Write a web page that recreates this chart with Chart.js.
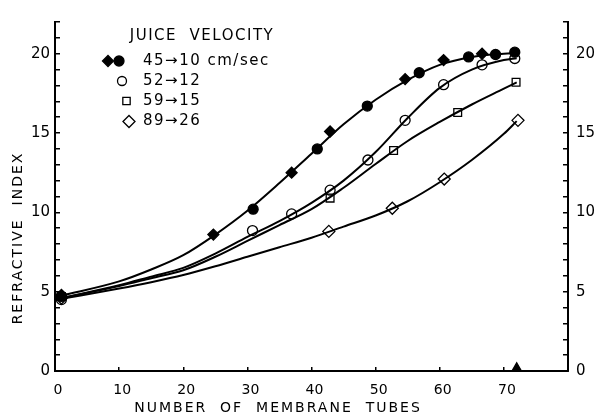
<!DOCTYPE html>
<html>
<head>
<meta charset="utf-8">
<script src="https://cdn.jsdelivr.net/npm/chart.js@4.4.1/dist/chart.umd.min.js"></script>
<style>
  html, body { margin: 0; padding: 0; background: #fff; }
  canvas { display: block; }
</style>
</head>
<body>
<canvas id="chart" width="598" height="418"></canvas>
<script>
// Axis ticks
const xTickLabels = [0, 10, 20, 30, 40, 50, 60, 70];
const yTickLabels = [0, 5, 10, 15, 20];

// Measured points
// 45 -> 10 cm/sec: two runs (filled diamonds, filled circles)
const tubes45a = [1, 24.7, 36.9, 42.9, 54.6, 60.6, 66.6];
const index45a = [4.8, 8.6, 12.5, 15.1, 18.4, 19.6, 20.0];
const tubes45b = [1, 30.9, 40.9, 48.7, 56.8, 64.5, 68.7, 71.7];
const index45b = [4.7, 10.2, 14.0, 16.7, 18.8, 19.8, 19.95, 20.1];
// 52 -> 12
const tubes52 = [1, 30.8, 36.9, 42.9, 48.8, 54.6, 60.6, 66.6, 71.7];
const index52 = [4.5, 8.85, 9.9, 11.4, 13.3, 15.8, 18.05, 19.3, 19.7];
// 59 -> 15
const tubes59 = [1, 42.9, 52.8, 62.8, 71.9];
const index59 = [4.7, 10.9, 13.9, 16.3, 18.2];
// 89 -> 26
const tubes89 = [1, 42.7, 52.6, 60.7, 72.2];
const index89 = [4.6, 8.8, 10.26, 12.1, 15.8];

// Hand-fitted smooth curves, sampled along the tube axis
const curveTubes = [1, 10, 15, 20, 25, 30, 35, 40, 45, 50, 55, 60, 65, 70, 72];
const curve45 = [4.75, 5.65, 6.4, 7.3, 8.6, 10.1, 11.85, 13.7, 15.55, 17.1, 18.35, 19.3, 19.8, 20.0, 20.05];
const curve52 = [4.6, 5.4, 5.95, 6.5, 7.4, 8.45, 9.45, 10.6, 12.0, 13.8, 15.95, 17.85, 19.0, 19.6, 19.72];
const curve59 = [4.6, 5.35, 5.85, 6.35, 7.2, 8.2, 9.2, 10.2, 11.55, 13.05, 14.5, 15.7, 16.8, 17.8, 18.2];
const curve89 = [4.55, 5.2, 5.6, 6.05, 6.6, 7.2, 7.8, 8.4, 9.1, 9.8, 10.7, 11.9, 13.3, 14.95, 15.75];

// Marker on the baseline
const baseTube = [72];
const baseIndex = [0.2];

const legendTitle = 'JUICE  VELOCITY';
const legendLabels = ['45\u219210 cm/sec', '52\u219212', '59\u219215', '89\u219226'];
const xTitle = 'NUMBER  OF  MEMBRANE  TUBES';
const yTitle = 'REFRACTIVE  INDEX';

const FONT = "'DejaVu Sans', sans-serif";

function pts(xs, ys) {
  return xs.map((x, i) => ({ x: x, y: ys[i] }));
}

function curveSet(ys) {
  return {
    data: pts(curveTubes, ys),
    showLine: true,
    cubicInterpolationMode: 'monotone',
    borderColor: '#000',
    borderWidth: 2,
    pointRadius: 0
  };
}

function markerSet(xs, ys, style, radius, filled) {
  return {
    data: pts(xs, ys),
    showLine: false,
    pointStyle: style,
    pointRadius: radius,
    pointBorderWidth: 1.3,
    pointBorderColor: '#000',
    pointBackgroundColor: filled ? '#000' : 'rgba(0,0,0,0)'
  };
}

function drawMarker(ctx, style, x, y, r, filled) {
  ctx.save();
  ctx.beginPath();
  if (style === 'circle') {
    ctx.arc(x, y, r, 0, Math.PI * 2);
  } else if (style === 'rect') {
    const s = r * Math.SQRT1_2;
    ctx.rect(x - s, y - s, 2 * s, 2 * s);
  } else if (style === 'rectRot') {
    ctx.moveTo(x - r, y); ctx.lineTo(x, y - r); ctx.lineTo(x + r, y); ctx.lineTo(x, y + r);
    ctx.closePath();
  }
  ctx.lineWidth = 1.3;
  ctx.strokeStyle = '#000';
  if (filled) { ctx.fillStyle = '#000'; ctx.fill(); }
  ctx.stroke();
  ctx.restore();
}

const annotations = {
  id: 'annotations',
  afterDraw(chart) {
    const ctx = chart.ctx;
    ctx.save();
    ctx.fillStyle = '#000';

    // legend
    ctx.font = '15px ' + FONT;
    ctx.letterSpacing = '1.5px';
    ctx.textBaseline = 'middle';
    ctx.textAlign = 'center';
    ctx.fillText(legendTitle, 202, 36);
    ctx.textAlign = 'left';
    const rowY = [61, 81, 101, 121.5];
    legendLabels.forEach((t, i) => ctx.fillText(t, 143, rowY[i]));
    drawMarker(ctx, 'rectRot', 108, rowY[0], 5.5, true);
    drawMarker(ctx, 'circle', 119, rowY[0], 5, true);
    drawMarker(ctx, 'circle', 122, rowY[1], 4.5, false);
    drawMarker(ctx, 'rect', 126.5, rowY[2], 5.2, false);
    drawMarker(ctx, 'rectRot', 129, rowY[3], 6, false);

    // axis titles
    ctx.font = '14px ' + FONT;
    ctx.letterSpacing = '2px';
    ctx.textAlign = 'center';
    ctx.fillText(xTitle, 278, 408);
    ctx.translate(18, 238);
    ctx.rotate(-Math.PI / 2);
    ctx.fillText(yTitle, 0, 0);
    ctx.restore();
    ctx.letterSpacing = '0px';
  }
};

const yTicks = {
  stepSize: 1,
  autoSkip: false,
  color: '#000',
  font: { family: FONT, size: 15 },
  callback: v => (yTickLabels.includes(v) ? String(v) : '')
};

new Chart(document.getElementById('chart'), {
  type: 'scatter',
  data: {
    datasets: [
      curveSet(curve45),
      curveSet(curve52),
      curveSet(curve59),
      curveSet(curve89),
      markerSet(tubes45a, index45a, 'rectRot', 5.5, true),
      markerSet(tubes45b, index45b, 'circle', 5, true),
      markerSet(tubes52, index52, 'circle', 5, false),
      markerSet(tubes59, index59, 'rect', 5.5, false),
      markerSet(tubes89, index89, 'rectRot', 6, false),
      Object.assign(markerSet(baseTube, baseIndex, 'triangle', 5, true), { clip: false })
    ]
  },
  options: {
    responsive: false,
    animation: false,
    devicePixelRatio: 1,
    layout: { padding: { top: 13, left: 0, right: 0, bottom: 0 } },
    plugins: { legend: { display: false }, tooltip: { enabled: false } },
    scales: {
      x: {
        type: 'linear', position: 'bottom', min: 0, max: 80,
        afterFit(s) { s.height = 47; },
        ticks: {
          stepSize: 10, autoSkip: false, maxRotation: 0, color: '#000',
          font: { family: FONT, size: 14 }, padding: 15, labelOffset: 3,
          callback: v => (xTickLabels.includes(v) ? String(v) : '')
        },
        grid: { drawOnChartArea: false, drawTicks: true, tickLength: -4, color: '#000', lineWidth: 1.5 },
        border: { display: true, color: '#000', width: 2 }
      },
      y: {
        type: 'linear', position: 'left', min: 0, max: 22,
        afterFit(s) { s.width = 55; },
        ticks: Object.assign({}, yTicks, { padding: 10 }),
        grid: { drawOnChartArea: false, drawTicks: true, tickLength: -5, color: '#000', lineWidth: 1.5 },
        border: { display: true, color: '#000', width: 2 }
      },
      y2: {
        type: 'linear', position: 'right', min: 0, max: 22,
        afterFit(s) { s.width = 30; },
        ticks: Object.assign({}, yTicks, { padding: 13 }),
        grid: { drawOnChartArea: false, drawTicks: true, tickLength: -5, color: '#000', lineWidth: 1.5 },
        border: { display: true, color: '#000', width: 2 }
      }
    }
  },
  plugins: [annotations]
});
</script>
</body>
</html>
